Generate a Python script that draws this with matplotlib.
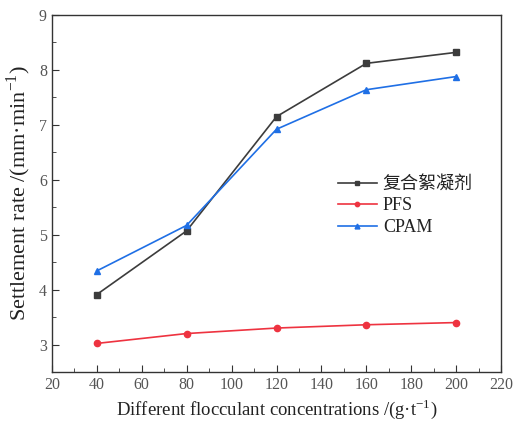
import matplotlib
matplotlib.use('Agg')
import matplotlib.pyplot as plt
from matplotlib.ticker import MultipleLocator

plt.rcParams['font.family'] = ['Liberation Serif', 'Noto Sans CJK SC']
plt.rcParams['mathtext.fontset'] = 'custom'
plt.rcParams['mathtext.rm'] = 'Liberation Serif'

conc = [40, 80, 120, 160, 200]
composite = [3.91, 5.07, 7.15, 8.12, 8.32]
pfs = [3.02, 3.20, 3.30, 3.36, 3.40]
cpam = [4.34, 5.17, 6.92, 7.64, 7.88]

fig = plt.figure(figsize=(5.13, 4.23), dpi=100)
ax = fig.add_axes([0.101, 0.1206, 0.876, 0.8439])

ax.plot(conc, composite, color='#3c3c3c', marker='s', markersize=4.5, linewidth=1.2, label='复合絮凝剂')
ax.plot(conc, pfs, color='#ee3340', marker='o', markersize=4.5, linewidth=1.2, label='PFS')
ax.plot(conc, cpam, color='#1f6fe5', marker='^', markersize=5, linewidth=1.2, label='CPAM')

ax.set_xlim(20, 220)
ax.set_ylim(2.5, 9)
ax.xaxis.set_major_locator(MultipleLocator(20))
ax.xaxis.set_minor_locator(MultipleLocator(10))
ax.yaxis.set_major_locator(MultipleLocator(1))
ax.yaxis.set_minor_locator(MultipleLocator(0.5))
ax.tick_params(which='both', direction='in', top=False, right=False, labelsize=11.5,
               colors='#333333', labelcolor='#555555')
ax.tick_params(which='major', length=5)
ax.tick_params(which='minor', length=3)
for s in ax.spines.values():
    s.set_color('#333333')
    s.set_linewidth(1.0)

ax.set_xlabel('Different flocculant concentrations /(g·t$^{\\mathrm{-1}}$)', fontsize=13.5,
              labelpad=3, color='#222222')
ax.set_ylabel('Settlement rate /(mm·min$^{\\mathrm{-1}}$)', fontsize=16, labelpad=4,
              color='#222222')

leg = ax.legend(loc='center left', bbox_to_anchor=(0.636, 0.465), frameon=False, fontsize=13,
                handlelength=2.2, handletextpad=0.3, labelspacing=0.25, borderpad=0,
                borderaxespad=0, markerscale=0.7)
for t in leg.get_texts():
    t.set_color('#222222')

fig.savefig('out.png', dpi=100)
